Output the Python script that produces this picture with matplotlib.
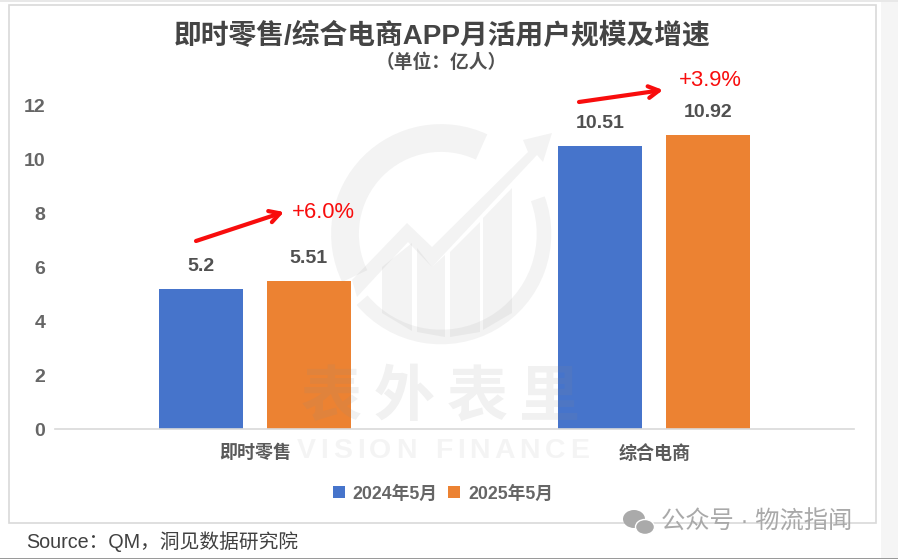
import numpy as np
import matplotlib
matplotlib.use("Agg")
import matplotlib.pyplot as plt
from matplotlib.patches import Rectangle, Arc, Polygon, Ellipse

plt.rcParams['font.family'] = ['Liberation Sans', 'Noto Sans CJK SC', 'DejaVu Sans']

categories = ['即时零售', '综合电商']
series_names = ['2024年5月', '2025年5月']
values_2024 = [5.2, 10.51]
values_2025 = [5.51, 10.92]
growth_labels = ['+6.0%', '+3.9%']
yticks = [0, 2, 4, 6, 8, 10, 12]
title = '即时零售/综合电商APP月活用户规模及增速'
subtitle = '（单位：亿人）'
source = 'Source：QM，洞见数据研究院'
footer = '公众号 · 物流指闻'
wm_cn = '表外表里'
wm_en = 'VISION FINANCE'

W, H = 898, 559
fig = plt.figure(figsize=(W/100, H/100), dpi=100, facecolor='#ffffff')
ov = fig.add_axes([0, 0, 1, 1], zorder=0)
ov.set_xlim(0, W); ov.set_ylim(H, 0); ov.axis('off')

# page strips and chart frame
ov.add_patch(Rectangle((881, 0), 17, 559, fc='#f5f5f5', ec='none'))
ov.add_patch(Rectangle((0, 0), 898, 1.5, fc='#e8e8e8', ec='none'))
ov.add_patch(Rectangle((0, 557.5), 898, 1.5, fc='#9a9a9a', ec='none'))
ov.add_patch(Rectangle((9, 5), 866.5, 517.5, fc='white', ec='#d9d9d9', lw=1.2))

ax = fig.add_axes([55/W, 1-429.4/H, 799/W, 324/H], zorder=1)
ax.patch.set_alpha(0)
x = np.arange(len(categories))
off, bw = 0.135, 0.211
ax.bar(x-off, values_2024, bw, color='#4674CB', label=series_names[0], zorder=2)
ax.bar(x+off, values_2025, bw, color='#EC8232', label=series_names[1], zorder=2)
ax.set_xlim(-0.5, 1.5); ax.set_ylim(0, 12)
for s in ['top', 'right', 'left']:
    ax.spines[s].set_visible(False)
ax.spines['bottom'].set_color('#d9d9d9'); ax.spines['bottom'].set_linewidth(1.2)
ax.set_yticks(yticks); ax.set_xticks(x)
ax.set_xticklabels(categories, fontsize=13, color='#5a5a5a', fontweight='bold')
ax.tick_params(axis='both', length=0)
ax.tick_params(axis='x', pad=11)
ax.tick_params(axis='y', pad=7, labelsize=14, labelcolor='#666666')
for t in ax.get_yticklabels():
    t.set_fontweight('bold')

for xi, v in zip(x-off, values_2024):
    ax.annotate(str(v), (xi, v), xytext=(0, 10), textcoords='offset points', ha='center',
                va='bottom', fontsize=14, fontweight='bold', color='#505050', zorder=4)
for xi, v in zip(x+off, values_2025):
    ax.annotate(str(v), (xi, v), xytext=(0, 10), textcoords='offset points', ha='center',
                va='bottom', fontsize=14, fontweight='bold', color='#505050', zorder=4)

# legend
h, l = ax.get_legend_handles_labels()
leg = fig.legend(h, l, loc='center', bbox_to_anchor=(443/W, 1-494/H), ncol=2, frameon=False,
                 prop={'size': 12.8, 'weight': 'bold'}, labelcolor='#666666',
                 handlelength=0.65, handleheight=0.65, handletextpad=0.45, columnspacing=0.6)

# titles
ov.text(442.5, 36, title, ha='center', va='center', fontsize=20, fontweight='bold', color='#444444')
ov.text(441, 63, subtitle, ha='center', va='center', fontsize=13.5, fontweight='bold', color='#505050')
ov.text(26, 542, source, ha='left', va='center', fontsize=14.2, color='#404040', zorder=6)

# watermark above the bars
wm = fig.add_axes([0, 0, 1, 1], zorder=3)
wm.set_xlim(0, W); wm.set_ylim(H, 0); wm.axis('off'); wm.patch.set_alpha(0)
wc = '#8c8c8c'
wa = 0.10
# y axis is inverted here, so angles run clockwise on screen
wm.add_patch(Arc((441, 234), 192, 192, theta1=154, theta2=295, color=wc, alpha=wa, lw=20))
wm.add_patch(Arc((441, 234), 206, 206, theta1=340, theta2=360+140, color=wc, alpha=wa, lw=10.5))
shapes = [
    [(352, 280), (407, 223), (432, 247), (528, 152), (523, 140), (552, 133), (543, 162), (537, 155),
     (432, 267), (408, 242), (357, 297)],
    [(382, 267), (412, 243), (412, 331), (382, 313)],
    [(417, 248), (432, 267), (445, 255), (445, 337), (417, 332)],
    [(450, 252), (480, 222), (480, 332), (450, 337)],
    [(483, 218), (512, 188), (512, 313), (483, 330)],
]
for pts in shapes:
    wm.add_patch(Polygon(pts, fc=wc, alpha=wa, ec='none'))
for cx, ch in zip([331, 404, 477, 550], wm_cn):
    wm.text(cx, 400, ch, ha='center', va='center', fontsize=44, fontweight='bold', color=wc, alpha=0.12)

# tracked wordmark: measure each glyph, then spread it over the reference width
renderer = fig.canvas.get_renderer()
cursor = 297.0
for ch in wm_en:
    t = wm.text(cursor, 448, ch, ha='left', va='center_baseline', fontsize=20.5, fontweight='bold',
                color=wc, alpha=0.09)
    adv = 9.0 if ch == ' ' else t.get_window_extent(renderer).width
    cursor += adv + 4.6

# red arrows and growth labels
arrows = [((196, 241), (284, 212)), ((579, 102), (663, 90))]
label_pos = [(323, 212), (710, 80.5)]
for (a, b), t, p in zip(arrows, growth_labels, label_pos):
    wm.annotate('', xy=b, xytext=a, arrowprops=dict(arrowstyle='->,head_length=0.75,head_width=0.42',
                color='#F80D0D', lw=3, shrinkA=0, shrinkB=0))
    wm.text(p[0], p[1], t, ha='center', va='center', fontsize=15.8, color='#F80D0D')

# footer mark
gc = '#aaaaaa'
wm.add_patch(Ellipse((634, 519), 22, 18, fc=gc, ec='none'))
wm.add_patch(Ellipse((645, 527), 19, 15, fc=gc, ec='white', lw=1))
wm.text(661, 522, footer, ha='left', va='center', fontsize=17.5, color='#a9a9a9')

fig.savefig('out.png', dpi=100)
